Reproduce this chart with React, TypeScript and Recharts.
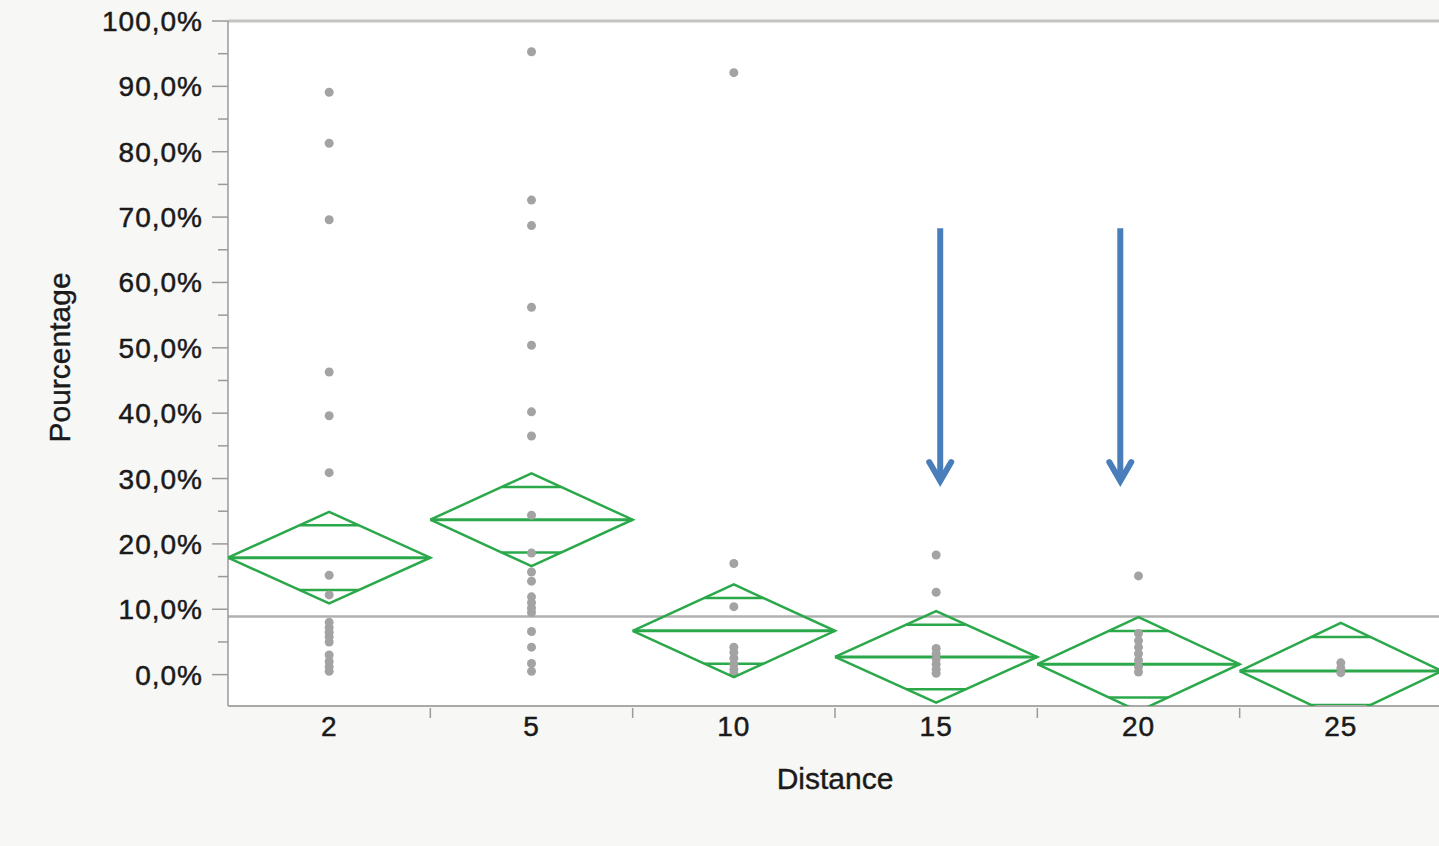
import React from 'react';
import { ComposedChart, Scatter, XAxis, YAxis, ReferenceLine, ReferenceArea, Label } from 'recharts';

// categories (Distance) and group statistics
const categories = ['2', '5', '10', '15', '20', '25'];
const groupMeans = [17.9, 23.7, 6.7, 2.7, 1.6, 0.55];
const ciUpper = [24.9, 30.8, 13.8, 9.7, 8.8, 7.9];
const ciLower = [10.9, 16.6, -0.4, -4.3, -5.6, -6.8];
const grandMean = 8.9;

// raw observations per group (%)
const pts2 = [89.1, 81.3, 69.6, 46.3, 39.6, 30.9, 15.2, 12.2, 8.0, 7.2, 6.5, 5.8, 5.0, 3.0, 2.0, 1.2, 0.5];
const pts5 = [95.3, 72.6, 68.7, 56.2, 50.4, 40.2, 36.5, 24.4, 18.6, 15.7, 14.3, 11.9, 11.0, 10.2, 9.5, 6.6, 4.2, 1.7, 0.5];
const pts10 = [92.1, 17.0, 10.4, 4.2, 3.4, 2.5, 1.6, 0.8, 0.2];
const pts15 = [18.3, 12.6, 4.0, 3.2, 2.4, 1.6, 0.8, 0.2];
const pts20 = [15.1, 6.3, 5.2, 4.2, 3.2, 2.2, 1.2, 0.4];
const pts25 = [1.8, 1.0, 0.3];

const yTicks = [0, 5, 10, 15, 20, 25, 30, 35, 40, 45, 50, 55, 60, 65, 70, 75, 80, 85, 90, 95, 100];
const xTicks = [1, 1.5, 2, 2.5, 3, 3.5, 4, 4.5, 5, 5.5, 6];

// annotation arrows: x position (category units), from / to (%)
const arrowX = [4.02, 4.91];
const arrowFrom = 68.3;
const arrowTo = 29.3;

const GREEN = '#2aa84a';
const FONT = '"Liberation Sans", Arial, Helvetica, sans-serif';
const TEXT = '#1a1a1a';

const allPoints = [pts2, pts5, pts10, pts15, pts20, pts25].flatMap((arr, i) =>
  arr.map((v) => ({ x: i + 1, y: v }))
);

const diamondPath = (i: number) => {
  const c = i + 1;
  return [
    { x: c - 0.5, y: groupMeans[i] },
    { x: c, y: ciUpper[i] },
    { x: c + 0.5, y: groupMeans[i] },
    { x: c, y: ciLower[i] },
    { x: c - 0.5, y: groupMeans[i] },
  ];
};

// overlap marks sit at mean +/- halfwidth/sqrt(2)
const overlapSegments = categories.flatMap((_, i) => {
  const c = i + 1;
  const k = 1 / Math.SQRT2;
  const hw = 0.5 * (1 - k);
  const up = groupMeans[i] + (ciUpper[i] - groupMeans[i]) * k;
  const lo = groupMeans[i] - (groupMeans[i] - ciLower[i]) * k;
  return [
    [{ x: c - hw, y: up }, { x: c + hw, y: up }],
    [{ x: c - hw, y: lo }, { x: c + hw, y: lo }],
  ];
});

const fmtPct = (v: number) => v.toFixed(1).replace('.', ',') + '%';

const YTick = (props: any) => {
  const { x, y, payload } = props;
  const v = payload.value;
  const major = v % 10 === 0;
  return (
    <g>
      <line x1={x - (major ? 16 : 10)} x2={x} y1={y} y2={y} stroke="#9a9a9a" strokeWidth={1.5} />
      {major && (
        <text x={x - 25} y={y} dy={10} textAnchor="end" fill={TEXT} stroke={TEXT} strokeWidth={0.5}
          fontSize={28} fontFamily={FONT} letterSpacing={1}>
          {fmtPct(v)}
        </text>
      )}
    </g>
  );
};

const XTick = (props: any) => {
  const { x, y, payload } = props;
  const v = payload.value;
  if (Number.isInteger(v)) {
    return (
      <text x={x} y={y + 30} textAnchor="middle" fill={TEXT} stroke={TEXT} strokeWidth={0.5}
        fontSize={28} fontFamily={FONT} letterSpacing={1}>
        {categories[v - 1]}
      </text>
    );
  }
  return <line x1={x} x2={x} y1={y + 2} y2={y + 12} stroke="#9a9a9a" strokeWidth={1.5} />;
};

const Arrow = (props: any) => {
  const { x1, y1, x2, y2 } = props;
  return (
    <g>
      <line x1={x1} y1={y1} x2={x2} y2={y2 - 4} stroke="#4a7ebb" strokeWidth={6} />
      <path
        d={`M${x2 - 11},${y2 - 21} L${x2},${y2 - 2} L${x2 + 11},${y2 - 21}`}
        fill="none"
        stroke="#4a7ebb"
        strokeWidth={6}
        strokeLinecap="round"
        strokeLinejoin="miter"
      />
    </g>
  );
};

const YTitle = (props: any) => {
  const { viewBox } = props;
  const cx = viewBox.x + 70;
  const cy = viewBox.y + viewBox.height / 2 - 6;
  return (
    <text x={cx} y={cy} transform={`rotate(-90 ${cx} ${cy})`} textAnchor="middle" fill={TEXT} stroke={TEXT}
      strokeWidth={0.4} fontSize={30} fontFamily={FONT}>
      Pourcentage
    </text>
  );
};

const Dot = (props: any) => <circle cx={props.cx} cy={props.cy} r={4.5} fill="#a3a3a3" />;
const NoDot = () => <g />;

export default function App() {
  return (
    <div style={{ width: 1442, height: 846, overflow: 'hidden' }}>
      <style>{`html,body{margin:0;padding:0;background:#f7f7f5;overflow:hidden}`}</style>
      <ComposedChart width={1442} height={846} margin={{ top: 21, right: 0, bottom: 0, left: 0 }}>
        <XAxis
          type="number"
          dataKey="x"
          domain={[0.5, 6.5]}
          ticks={xTicks}
          interval={0}
          allowDataOverflow
          height={140}
          tickSize={0}
          tickMargin={0}
          tickLine={false}
          tick={<XTick />}
          axisLine={{ stroke: '#a8a8a8', strokeWidth: 2 }}
        >
          <Label value="Distance" position="insideTop" offset={62} fill={TEXT} stroke={TEXT} strokeWidth={0.4}
            fontSize={30} fontFamily={FONT} />
        </XAxis>
        <YAxis
          type="number"
          dataKey="y"
          domain={[-4.8, 100]}
          ticks={yTicks}
          interval={0}
          allowDataOverflow
          width={228}
          tickSize={0}
          tickMargin={0}
          tickLine={false}
          tick={<YTick />}
          axisLine={{ stroke: '#9a9a9a', strokeWidth: 1.5 }}
          label={<YTitle />}
        />
        <ReferenceArea x1={0.5} x2={6.5} y1={-4.8} y2={100} fill="#ffffff" fillOpacity={1} stroke="none" ifOverflow="hidden" />
        <ReferenceLine y={100} stroke="#c4c4c4" strokeWidth={3} />
        <ReferenceLine y={grandMean} stroke="#b0b0b0" strokeWidth={2.5} />

        <Scatter data={allPoints} shape={<Dot />} isAnimationActive={false} legendType="none" />

        {categories.map((c, i) => (
          <Scatter
            key={`d-${c}`}
            data={diamondPath(i)}
            shape={<NoDot />}
            line={{ stroke: GREEN, strokeWidth: 2.5 }}
            lineJointType="linear"
            isAnimationActive={false}
            legendType="none"
          />
        ))}
        {categories.map((c, i) => (
          <ReferenceLine
            key={`m-${c}`}
            segment={[{ x: i + 0.5, y: groupMeans[i] }, { x: i + 1.5, y: groupMeans[i] }]}
            stroke={GREEN}
            strokeWidth={3}
            ifOverflow="hidden"
          />
        ))}
        {overlapSegments.map((seg, j) => (
          <ReferenceLine key={`o-${j}`} segment={seg} stroke={GREEN} strokeWidth={2.5} ifOverflow="hidden" />
        ))}
        {arrowX.map((ax, j) => (
          <ReferenceLine
            key={`a-${j}`}
            segment={[{ x: ax, y: arrowFrom }, { x: ax, y: arrowTo }]}
            shape={<Arrow />}
            ifOverflow="visible"
          />
        ))}
      </ComposedChart>
    </div>
  );
}
